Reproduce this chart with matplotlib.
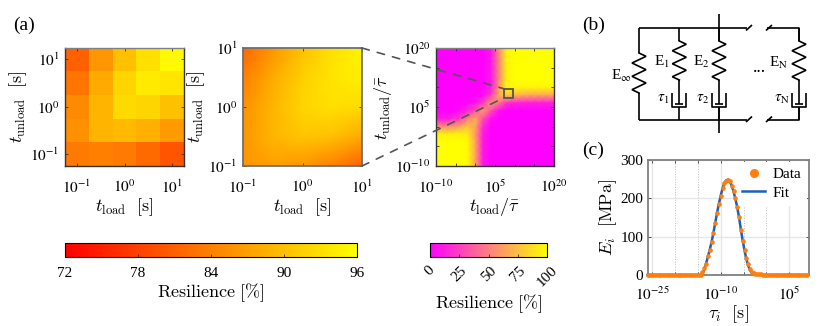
import numpy as np
from matplotlib import pyplot as plt
from matplotlib.patches import ConnectionPatch, Rectangle
from matplotlib.ticker import NullFormatter

plt.rcParams["font.family"] = ["Liberation Serif", "DejaVu Serif"]
plt.rcParams["mathtext.fontset"] = "cm"

W, H = 830, 326

# panel 1: measured grid, rows from top (t_unload = 10^1) to bottom
measured_edges = [-1.25, -0.75, -0.25, 0.25, 0.75, 1.25]
measured = [
    [81.0, 86.0, 90.0, 93.0, 95.5],
    [83.0, 88.0, 92.0, 94.0, 93.5],
    [85.0, 89.0, 92.5, 92.0, 90.0],
    [85.5, 89.0, 89.5, 88.5, 86.5],
    [83.5, 84.0, 83.5, 82.0, 80.0],
]

# panel 2: fitted surface read at a few points, rows from top
fitted_exp = [-1.0, -0.5, 0.0, 0.5, 1.0]
fitted = [
    [81.5, 86.0, 90.0, 93.0, 95.0],
    [84.0, 88.0, 91.5, 93.5, 94.5],
    [85.5, 89.0, 92.0, 93.0, 92.5],
    [86.0, 89.0, 90.5, 90.0, 88.0],
    [86.0, 87.0, 86.0, 84.0, 81.0],
]

# panel 3: wide range map, rows from top (10^20) to bottom (10^-10)
wide_x_exp = [-10, -8, -6, -4, -2, 0, 2, 4, 6, 8, 10, 12, 14, 16, 18, 20]
wide_y_exp = [20, 18, 16, 14, 12, 10, 8, 6, 4, 2, 0, -2, -4, -6, -8, -10]
wide = [
    [0, 0, 0, 0, 0, 0, 0, 10, 55, 95, 100, 100, 100, 100, 100, 100],
    [0, 0, 0, 0, 0, 0, 0, 10, 55, 95, 100, 100, 100, 100, 100, 100],
    [0, 0, 0, 0, 0, 0, 0, 10, 55, 95, 100, 100, 100, 100, 100, 100],
    [0, 0, 0, 0, 0, 0, 0, 10, 55, 95, 100, 100, 100, 100, 100, 100],
    [0, 0, 0, 0, 0, 0, 0, 10, 55, 95, 100, 100, 100, 100, 100, 100],
    [0, 0, 0, 0, 0, 0, 1, 12, 60, 95, 97, 96, 96, 96, 96, 96],
    [0, 0, 0, 0, 0, 1, 5, 25, 68, 80, 72, 68, 66, 65, 65, 65],
    [0, 0, 0, 0, 3, 8, 25, 60, 45, 18, 14, 12, 12, 12, 12, 12],
    [0, 0, 0, 5, 15, 35, 60, 30, 5, 0, 0, 0, 0, 0, 0, 0],
    [12, 10, 15, 25, 50, 68, 30, 5, 0, 0, 0, 0, 0, 0, 0, 0],
    [55, 55, 58, 65, 78, 65, 15, 0, 0, 0, 0, 0, 0, 0, 0, 0],
    [95, 95, 95, 95, 92, 60, 10, 0, 0, 0, 0, 0, 0, 0, 0, 0],
    [100, 100, 100, 100, 98, 65, 8, 0, 0, 0, 0, 0, 0, 0, 0, 0],
    [100, 100, 100, 100, 98, 65, 8, 0, 0, 0, 0, 0, 0, 0, 0, 0],
    [100, 100, 100, 100, 98, 65, 8, 0, 0, 0, 0, 0, 0, 0, 0, 0],
    [100, 100, 100, 100, 98, 65, 8, 0, 0, 0, 0, 0, 0, 0, 0, 0],
]

# panel c: spectrum
log_tau = [
    -26.0, -25.6, -25.2, -24.8, -24.4, -24.0, -23.6, -23.2, -22.8, -22.4,
    -22.0, -21.6, -21.2, -20.8, -20.4, -20.0, -19.6, -19.2, -18.8, -18.4,
    -18.0, -17.6, -17.2, -16.8, -16.4, -16.0, -15.6, -15.2, -14.8, -14.4,
    -14.0, -13.6, -13.2, -12.8, -12.4, -12.0, -11.6, -11.2, -10.8, -10.4,
    -10.0, -9.6, -9.2, -8.8, -8.4, -8.0, -7.6, -7.2, -6.8, -6.4,
    -6.0, -5.6, -5.2, -4.8, -4.4, -4.0, -3.6, -3.2, -2.8, -2.4,
    -2.0, -1.6, -1.2, -0.8, -0.4, 0.0, 0.4, 0.8, 1.2, 1.6,
    2.0, 2.4, 2.8, 3.2, 3.6, 4.0, 4.4, 4.8, 5.2, 5.6,
    6.0, 6.4, 6.8, 7.2, 7.6, 8.0, 8.4, 8.8,
]
data_E = [0.0] * 30 + [
    7, 17, 30, 50, 65, 85, 109, 135, 162, 185,
    205, 226, 240, 246, 249, 244, 232, 218, 200, 178,
    152, 118, 88, 66, 45, 28, 16, 8, 5, 3,
    2.5, 2, 1.5, 1, 0.8, 0.6, 0.4, 0.3,
] + [0.0] * 20
fit_E = [0.0] * 30 + [
    3, 14, 30, 48, 66, 86, 110, 136, 162, 186,
    207, 226, 240, 247, 249, 244, 233, 218, 199, 177,
    151, 119, 90, 64, 42, 25, 13, 6, 3, 1.5,
    0.8, 0.4, 0.2, 0.1, 0, 0, 0, 0,
] + [0.0] * 20

cbar1_ticks = [72, 78, 84, 90, 96]
cbar2_ticks = [0, 25, 50, 75, 100]

TICK_FS = 11
LABEL_FS = 13


def add_axes_px(left, top, right, bottom, **kw):
    """Оси по пиксельным координатам картинки."""
    return fig.add_axes([left / W, 1 - bottom / H, (right - left) / W, (bottom - top) / H], **kw)


def pow_labels(exps):
    return [r"$10^{%d}$" % e for e in exps]


def log_ticks(ax, major, minor=()):
    for axis, setter in ((ax.xaxis, ax.set_xticks), (ax.yaxis, ax.set_yticks)):
        setter([10.0 ** e for e in major], labels=pow_labels(major), math_fontfamily="stix")
        setter([10.0 ** e for e in minor], minor=True)
        axis.set_minor_formatter(NullFormatter())
    ax.tick_params(which="both", direction="in", top=True, right=True, length=2, width=0.6, color="#333333")
    ax.tick_params(axis="both", labelsize=TICK_FS)
    ax.tick_params(axis="x", pad=9)
    ax.tick_params(axis="y", pad=4)


def spines(ax, colors, lw):
    for side, c in zip(("top", "right", "bottom", "left"), colors):
        ax.spines[side].set_color(c)
        ax.spines[side].set_linewidth(lw)


def zigzag(x, y0, y1, amp=7, peaks=6):
    ys = [y0]
    xs = [x]
    step = (y1 - y0) / peaks
    for i in range(peaks):
        xs.append(x + amp * (-1) ** i)
        ys.append(y0 + step * (i + 0.5))
    xs.append(x)
    ys.append(y1)
    sketch.plot(xs, ys, color="k", lw=1.2, solid_joinstyle="miter")


def wire(xs, ys):
    sketch.plot(xs, ys, color="k", lw=1.2, solid_capstyle="butt")


def branch(x, y_top=28, y_bot=119.5):
    """Пружина и демпфер в одной ветви."""
    wire([x, x], [y_top, 41])
    zigzag(x, 41, 80)
    wire([x, x], [80, 104])
    wire([x - 4, x + 4], [104, 104])
    wire([x - 7, x - 7, x + 7, x + 7], [93, 107, 107, 93])
    wire([x, x], [107, y_bot])


fig = plt.figure(figsize=(W / 100, H / 100), dpi=100)

# schematic layer
sketch = fig.add_axes([0, 0, 1, 1])
sketch.set_xlim(0, W)
sketch.set_ylim(H, 0)
sketch.axis("off")

# panel 1
ax1 = add_axes_px(65, 47.5, 184, 166)
edges = [10.0 ** e for e in measured_edges]
mesh1 = ax1.pcolormesh(edges, edges[::-1], measured, cmap="autumn", vmin=72, vmax=96)
ax1.set_xscale("log")
ax1.set_yscale("log")
ax1.set_xlim(edges[0], edges[-1])
ax1.set_ylim(edges[0], edges[-1])
log_ticks(ax1, [-1, 0, 1])
spines(ax1, ["#808080", "#333333", "#333333", "#333333"], 1.0)
ax1.set_xlabel(r"$t_{\mathrm{load}}\ \ [\mathrm{s}]$", fontsize=LABEL_FS, labelpad=0)
ax1.set_ylabel(r"$t_{\mathrm{unload}}\ \ [\mathrm{s}]$", fontsize=LABEL_FS, labelpad=1)

# panel 2
ax2 = add_axes_px(243, 48, 362, 166)
fit_x = [10.0 ** e for e in fitted_exp]
ax2.pcolormesh(fit_x, fit_x[::-1], fitted, cmap="autumn", vmin=72, vmax=96, shading="gouraud")
ax2.set_xscale("log")
ax2.set_yscale("log")
ax2.set_xlim(fit_x[0], fit_x[-1])
ax2.set_ylim(fit_x[0], fit_x[-1])
log_ticks(ax2, [-1, 0, 1])
spines(ax2, ["#707070"] * 4, 1.3)
ax2.set_xlabel(r"$t_{\mathrm{load}}\ \ [\mathrm{s}]$", fontsize=LABEL_FS, labelpad=0)
ax2.set_ylabel(r"$t_{\mathrm{unload}}\ \ [\mathrm{s}]$", fontsize=LABEL_FS, labelpad=1)

# panel 3
ax3 = add_axes_px(436, 48, 554, 166)
ax3.pcolormesh([10.0 ** e for e in wide_x_exp], [10.0 ** e for e in wide_y_exp], wide,
               cmap="spring", vmin=0, vmax=100, shading="gouraud")
ax3.set_xscale("log")
ax3.set_yscale("log")
ax3.set_xlim(1e-10, 1e20)
ax3.set_ylim(1e-10, 1e20)
log_ticks(ax3, [-10, 5, 20], [-5, 0, 10, 15])
spines(ax3, ["#808080", "#333333", "#333333", "#333333"], 1.0)
ax3.set_xlabel(r"$t_{\mathrm{load}}/\bar{\tau}$", fontsize=LABEL_FS, labelpad=0)
ax3.set_ylabel(r"$t_{\mathrm{unload}}/\bar{\tau}$", fontsize=LABEL_FS, labelpad=1)

# zoom box and dashed connectors
sq_lo, sq_hi = 10.0 ** 7.4, 10.0 ** 9.6
ax3.add_patch(Rectangle((sq_lo, sq_lo), sq_hi - sq_lo, sq_hi - sq_lo, fill=False, ec="#555555", lw=1.3, zorder=5))
for corner, target in (((1, 1), (sq_lo, sq_hi)), ((1, 0), (sq_lo, sq_lo))):
    fig.add_artist(ConnectionPatch(corner, target, coordsA="axes fraction", coordsB="data",
                                   axesA=ax2, axesB=ax3, color="#555555", lw=1.2,
                                   linestyle=(0, (4.5, 5))))

# colorbars
cax1 = add_axes_px(65, 243, 357, 257)
cb1 = fig.colorbar(mesh1, cax=cax1, orientation="horizontal", ticks=cbar1_ticks)
cb1.ax.tick_params(direction="in", length=2, width=0.6, labelsize=TICK_FS, pad=7, color="#333333")
cb1.set_label(r"$\mathrm{Resilience}\ [\%]$", fontsize=LABEL_FS, labelpad=1)
cb1.outline.set_linewidth(0.8)

cax2 = add_axes_px(430, 243, 547, 257)
mesh2 = plt.cm.ScalarMappable(cmap="spring", norm=plt.Normalize(0, 100))
cb2 = fig.colorbar(mesh2, cax=cax2, orientation="horizontal", ticks=cbar2_ticks)
cb2.ax.tick_params(direction="in", length=2, width=0.6, labelsize=TICK_FS, pad=5, color="#333333", labelrotation=45)
cb2.set_label(r"$\mathrm{Resilience}\ [\%]$", fontsize=LABEL_FS, labelpad=2)
cb2.outline.set_linewidth(0.8)

# panel c
axc = add_axes_px(648, 160, 809, 275)
axc.plot([10.0 ** t for t in log_tau], fit_E, color="#1f5fc0", lw=1.8, label="Fit", clip_on=False, zorder=3)
axc.plot([10.0 ** t for t in log_tau], data_E, ls="none", marker="o", ms=2.3, color="#ff7f0e",
         label="Data", clip_on=False, zorder=4)
axc.set_xscale("log")
axc.set_xlim(10.0 ** -25.9, 10.0 ** 9.3)
axc.set_ylim(0, 300)
axc.set_xticks([1e-25, 1e-10, 1e5], labels=pow_labels([-25, -10, 5]), math_fontfamily="stix")
axc.set_xticks([1e-20, 1e-15, 1e-5, 1e0], minor=True)
axc.xaxis.set_minor_formatter(NullFormatter())
axc.set_yticks([0, 100, 200, 300])
axc.tick_params(which="both", direction="in", top=True, right=True, length=2, width=0.6, color="#333333")
axc.tick_params(axis="both", labelsize=TICK_FS)
axc.tick_params(axis="x", pad=8)
axc.grid(True, which="major", color="#e6e6e6", lw=1.0)
axc.grid(True, which="minor", axis="x", color="#bbbbbb", lw=0.7, ls=":")
axc.set_axisbelow(True)
spines(axc, ["#808080"] * 4, 1.3)
axc.set_xlabel(r"$\tau_i\ \ [\mathrm{s}]$", fontsize=LABEL_FS, labelpad=0)
axc.set_ylabel(r"$E_i\ \ [\mathrm{MPa}]$", fontsize=LABEL_FS, labelpad=1)
hnd, lab = axc.get_legend_handles_labels()
leg = axc.legend(hnd[::-1], lab[::-1], loc="upper right", fontsize=TICK_FS, markerscale=2.4, frameon=True,
                 framealpha=1, edgecolor="none", fancybox=False, handlelength=1.5, borderaxespad=0.1,
                 labelspacing=0.3, borderpad=0.4, handletextpad=0.5)
leg.set_zorder(2.5)

# panel b
wire([639, 747], [28, 28])
wire([767, 799, 799], [28, 28, 41])
wire([639, 747], [119.5, 119.5])
wire([767, 799, 799], [119.5, 119.5, 107])
wire([746, 752], [30.5, 25])
wire([766, 772], [30.5, 25])
wire([746, 752], [122, 116.5])
wire([766, 772], [122, 116.5])
wire([719, 719], [14, 41])
wire([719, 719], [107, 133])
wire([639, 639], [28, 53])
zigzag(639, 53, 93)
wire([639, 639], [93, 119.5])
branch(679.3)
branch(719)
branch(799)
for x, y, s in ((621, 76, r"E$_{\infty}$"), (662, 62, "E$_1$"), (701, 62, "E$_2$"), (779, 63, "E$_\\mathrm{N}$"),
                (663, 99, r"$\tau_1$"), (703, 99, r"$\tau_2$"), (782, 99, r"$\tau_\mathrm{N}$")):
    sketch.text(x, y, s, ha="center", va="center", fontsize=11, math_fontfamily="stix")
sketch.text(759, 68, "...", ha="center", va="center", fontsize=13)

# panel letters
sketch.text(13, 25, "(a)", ha="left", va="center", fontsize=14)
sketch.text(582, 25, "(b)", ha="left", va="center", fontsize=14)
sketch.text(582, 150, "(c)", ha="left", va="center", fontsize=14)

fig.savefig("out.png", dpi=100)
